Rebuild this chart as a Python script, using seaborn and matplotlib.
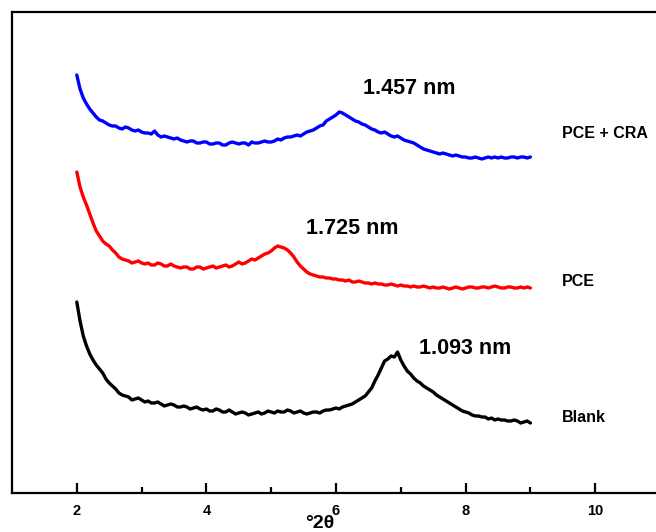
import numpy as np
import pandas as pd
import matplotlib
matplotlib.use("Agg")
import matplotlib.pyplot as plt
import seaborn as sns

# 2-theta grid (degrees), 0.05 deg steps from 2 to 9
two_theta = np.round(np.linspace(2.0, 9.0, 141), 2)

# Offset XRD intensities (arbitrary units), one trace per sample
blank = [191, 172, 157, 147, 139, 133, 128, 124, 120, 114,
         110, 107, 104, 100, 98, 97, 96, 93, 94, 95,
         93, 91, 92, 90, 90, 91, 89, 87, 88, 89,
         88, 86, 86, 87, 86, 84, 85, 86, 84, 83,
         84, 82, 82, 84, 83, 81, 81, 83, 81, 79,
         80, 81, 80, 78, 79, 80, 81, 79, 80, 82,
         81, 80, 82, 81, 81, 83, 82, 80, 81, 82,
         80, 79, 80, 81, 81, 80, 82, 83, 83, 84,
         85, 84, 86, 87, 88, 89, 91, 93, 95, 97,
         101, 105, 112, 118, 125, 132, 134, 137, 136, 141,
         133, 127, 122, 119, 115, 112, 110, 107, 105, 103,
         101, 98, 96, 94, 92, 90, 88, 86, 84, 82,
         81, 80, 78, 77, 77, 76, 76, 74, 75, 73,
         74, 73, 73, 72, 72, 73, 72, 70, 71, 72,
         70]

pce = [321, 306, 296, 288, 279, 270, 262, 257, 252, 249,
       247, 243, 240, 236, 234, 233, 232, 230, 231, 232,
       230, 229, 230, 228, 228, 230, 229, 227, 227, 229,
       227, 226, 225, 226, 226, 224, 224, 226, 226, 224,
       225, 226, 227, 225, 226, 227, 228, 226, 227, 229,
       231, 229, 230, 232, 234, 233, 235, 237, 239, 240,
       242, 245, 247, 246, 245, 243, 240, 236, 231, 227,
       224, 221, 219, 218, 217, 216, 216, 215, 215, 214,
       214, 213, 213, 212, 213, 211, 211, 212, 211, 210,
       210, 209, 210, 209, 209, 208, 208, 209, 208, 207,
       208, 207, 207, 206, 207, 206, 206, 207, 206, 205,
       206, 205, 205, 206, 205, 204, 205, 206, 205, 204,
       205, 206, 206, 205, 205, 206, 206, 205, 206, 207,
       206, 205, 205, 206, 206, 205, 205, 206, 205, 206,
       205]

pce_cra = [418, 404, 395, 389, 384, 380, 376, 373, 372, 370,
           368, 367, 367, 365, 364, 366, 365, 363, 362, 363,
           361, 360, 360, 359, 362, 358, 356, 357, 356, 355,
           354, 355, 353, 352, 351, 352, 352, 350, 350, 351,
           351, 349, 349, 350, 350, 348, 348, 350, 351, 350,
           349, 350, 350, 348, 351, 350, 350, 351, 352, 351,
           351, 352, 354, 353, 355, 356, 356, 357, 358, 357,
           359, 361, 362, 363, 365, 367, 368, 372, 374, 376,
           378, 381, 380, 378, 376, 374, 372, 371, 369, 368,
           366, 364, 363, 361, 360, 361, 359, 357, 356, 357,
           355, 353, 352, 351, 350, 348, 346, 344, 343, 342,
           341, 340, 339, 340, 339, 338, 337, 338, 337, 336,
           336, 335, 335, 336, 335, 334, 335, 336, 335, 336,
           335, 336, 335, 335, 336, 336, 335, 336, 336, 335,
           336]

samples = ["Blank", "PCE", "PCE + CRA"]
sample_colors = ["#000000", "#ff0000", "#0000ff"]

# d-spacing labels: (text, 2theta position, intensity position)
peak_labels = ["1.093 nm", "1.725 nm", "1.457 nm"]
peak_label_x = [7.99, 6.25, 7.13]
peak_label_y = [144, 264, 405]

# sample name labels at the right end of each trace
name_label_y = [76, 212, 359]

x_ticks = [2, 4, 6, 8, 10]
x_minor = [3, 5, 7, 9]

df = pd.DataFrame({
    "two_theta": np.concatenate([two_theta] * 3),
    "intensity": np.concatenate([blank, pce, pce_cra]),
    "sample": np.repeat(samples, len(two_theta)),
})

sns.set_theme(style="white")
plt.rcParams["font.family"] = ["Liberation Sans", "DejaVu Sans"]
plt.rcParams["font.weight"] = "bold"
plt.rcParams["text.color"] = "black"
plt.rcParams["xtick.color"] = "black"
plt.rcParams["xtick.labelcolor"] = "black"

fig = plt.figure(figsize=(6.56, 5.32), dpi=100)
ax = fig.add_axes([12 / 656, 39 / 532, 648 / 656, 481 / 532])

sns.lineplot(data=df, x="two_theta", y="intensity", hue="sample",
             palette=dict(zip(samples, sample_colors)), estimator=None,
             sort=False, linewidth=2.4, legend=False, ax=ax)

ax.set_xlim(1.0, 11.0)
ax.set_ylim(0, 481)

for side in ["left", "top", "bottom"]:
    ax.spines[side].set_visible(True)
    ax.spines[side].set_color("black")
    ax.spines[side].set_linewidth(1.6)
ax.spines["right"].set_visible(False)

ax.set_xticks(x_ticks)
ax.set_xticklabels([str(t) for t in x_ticks])
ax.set_xticks(x_minor, minor=True)
ax.set_yticks([])
ax.tick_params(axis="x", which="major", direction="in", length=7.5, width=1.6,
               pad=8, labelsize=10.5, colors="black", bottom=True, top=False)
ax.tick_params(axis="x", which="minor", direction="in", length=4, width=1.6,
               colors="black", bottom=True, top=False)
for lab in ax.get_xticklabels():
    lab.set_fontweight("bold")
    lab.set_color("black")

ax.set_xlabel("")
ax.set_ylabel("")
ax.text(5.75, -30, "°2θ", ha="center", va="center", fontsize=14,
        fontweight="bold", color="black", clip_on=False)

for text, px, py in zip(peak_labels, peak_label_x, peak_label_y):
    ax.text(px, py, text, ha="center", va="center", fontsize=15.5,
            fontweight="bold", color="black")

for name, py in zip(samples, name_label_y):
    ax.text(9.49, py, name, ha="left", va="center", fontsize=11.5,
            fontweight="bold", color="black", clip_on=False)

fig.savefig("out.png", dpi=100)
